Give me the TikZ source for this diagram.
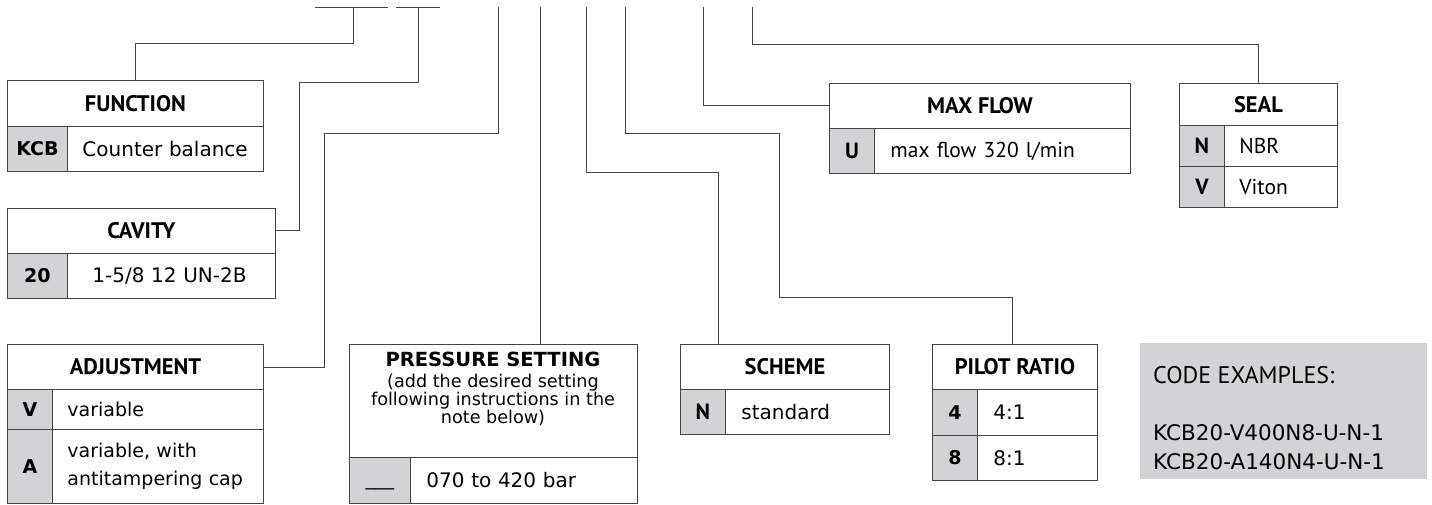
\documentclass[tikz,border=0pt]{standalone}
\usepackage{fontspec}
\setmainfont{DejaVu Sans}
\newfontfamily\dinfam{PT Sans}
\newcommand\hdrfont{\dinfam\bfseries\fontsize{22.5}{25}\selectfont}
\newcommand\keyfont{\bfseries\fontsize{19}{22}\selectfont}
\newcommand\keydin{\dinfam\bfseries\fontsize{22}{24}\selectfont}
\newcommand\txtfont{\fontsize{20}{27}\selectfont}
\newcommand\txtdin{\dinfam\fontsize{21.5}{26}\selectfont}
\definecolor{linec}{HTML}{444444}
\definecolor{keyg}{HTML}{D1D3D4}

\begin{document}
\begin{tikzpicture}[x=1pt,y=-1pt,
    conn/.style={draw=linec,line width=0.9pt},
    hdr/.style={draw=linec,line width=0.9pt,inner sep=0pt,anchor=north west,font=\hdrfont},
    key/.style={hdr,fill=keyg,font=\keyfont},
    val/.style={draw=linec,line width=0.9pt,anchor=north west,inner xsep=15pt,inner ysep=0pt,align=left,font=\txtfont}]
    \useasboundingbox (0,0) rectangle (1432,505);

    \node[hdr,minimum width=256pt,minimum height=46pt] (func) at (7,80) {FUNCTION};
    \node[key,minimum width=60pt,minimum height=45pt] (funck) at (7,126) {KCB};
    \node[val,text width=166pt,minimum height=45pt] (funcv) at (67,126) {Counter balance};

    \node[hdr,minimum width=268pt,minimum height=45pt] (cav) at (7,208) {CAVITY};
    \node[key,minimum width=60pt,minimum height=45pt] (cavk) at (7,253) {20};
    \node[val,inner xsep=25pt,text width=158pt,minimum height=45pt] (cavv) at (67,253) {1-5/8 12 UN-2B};

    \node[hdr,minimum width=256pt,minimum height=45pt] (adj) at (7,344) {ADJUSTMENT};
    \node[key,minimum width=45pt,minimum height=40pt] (adjk1) at (7,389) {V};
    \node[val,font=\fontsize{19}{28}\selectfont,text width=181pt,minimum height=40pt] (adjv1) at (52,389) {variable};
    \node[key,minimum width=45pt,minimum height=74pt] (adjk2) at (7,429) {A};
    \node[val,font=\fontsize{19}{28}\selectfont,text width=181pt,minimum height=74pt] (adjv2) at (52,429) {variable, with\\antitampering cap};

    \node[hdr,minimum width=288pt,minimum height=113pt] (press) at (349,344) {};
    \node[anchor=north,align=center,inner sep=0pt,font=\fontsize{17.6}{18}\selectfont] (presst) at (493,352)
        {{\bfseries\fontsize{19.5}{24}\selectfont PRESSURE SETTING}\\[3pt](add the desired setting\\following instructions in the\\note below)};
    \node[key,minimum width=61pt,minimum height=46pt] (pressk) at (349,457) {\raisebox{-14pt}{\fontsize{19}{20}\mdseries\_\_\_}};
    \node[val,inner xsep=16pt,text width=195pt,minimum height=46pt] (pressv) at (410,457) {070 to 420 bar};

    \node[hdr,minimum width=209pt,minimum height=45pt] (scheme) at (680,344) {SCHEME};
    \node[key,font=\keydin,minimum width=45pt,minimum height=45pt] (schemek) at (680,389) {N};
    \node[val,inner xsep=16pt,text width=132pt,minimum height=45pt] (schemev) at (725,389) {standard};

    \node[hdr,minimum width=165pt,minimum height=45pt] (pilot) at (932,344) {PILOT RATIO};
    \node[key,minimum width=45pt,minimum height=46pt] (pilotk1) at (932,389) {4};
    \node[val,inner xsep=16pt,text width=88pt,minimum height=46pt] (pilotv1) at (977,389) {4:1};
    \node[key,minimum width=45pt,minimum height=45pt] (pilotk2) at (932,435) {8};
    \node[val,inner xsep=16pt,text width=88pt,minimum height=45pt] (pilotv2) at (977,435) {8:1};

    \node[hdr,minimum width=301pt,minimum height=45pt] (maxf) at (829,83) {MAX FLOW};
    \node[key,font=\keydin,minimum width=45pt,minimum height=45pt] (maxfk) at (829,128) {U};
    \node[val,font=\txtdin,inner xsep=16pt,text width=224pt,minimum height=45pt] (maxfv) at (874,128) {max flow 320 l/min};

    \node[hdr,minimum width=158pt,minimum height=42pt] (seal) at (1179,83) {SEAL};
    \node[key,font=\keydin,minimum width=45pt,minimum height=41pt] (sealk1) at (1179,125) {N};
    \node[val,font=\txtdin,text width=83pt,minimum height=41pt] (sealv1) at (1224,125) {NBR};
    \node[key,font=\keydin,minimum width=45pt,minimum height=41pt] (sealk2) at (1179,166) {V};
    \node[val,font=\txtdin,text width=83pt,minimum height=41pt] (sealv2) at (1224,166) {Viton};

    \node[fill=keyg,anchor=north west,inner sep=0pt,minimum width=287pt,minimum height=136pt] (codes) at (1140,343) {};
    \node[anchor=west,inner sep=0pt,font=\dinfam\fontsize{24}{26}\selectfont] (codet) at (1153,375) {CODE EXAMPLES:};
    \node[anchor=north west,inner sep=0pt,align=left,font=\fontsize{21.5}{29}\selectfont] (codel) at (1153,424)
        {KCB20-V400N8-U-N-1\\KCB20-A140N4-U-N-1};

    \coordinate (s1a) at (315,7);
    \coordinate (s1b) at (388,7);
    \coordinate (s2a) at (396,7);
    \coordinate (s2b) at (440,7);
    \coordinate (t1) at (353,7);
    \coordinate (t2) at (418,7);
    \coordinate (t3) at (498,7);
    \coordinate (t4) at (540,7);
    \coordinate (t5) at (586,7);
    \coordinate (t6) at (625,7);
    \coordinate (t7) at (703,7);
    \coordinate (t8) at (752,7);
    \coordinate (c5) at (718,172);
    \coordinate (c6a) at (779,133);
    \coordinate (c6b) at (1012,297);

    \draw[conn] (s1a) -- (s1b);
    \draw[conn] (s2a) -- (s2b);
    \draw[conn] (t1) -- ++(0,36) -| (func.north);
    \draw[conn] (t2) -- ++(0,75) -- ++(-119,0) |- (cav.east);
    \draw[conn] (t3) -- ++(0,126) -- ++(-174,0) |- (adj.east);
    \draw[conn] (t4) -- (t4 |- press.north);
    \draw[conn] (t5) |- (c5) -- (c5 |- scheme.north);
    \draw[conn] (t6) |- (c6a) |- (c6b) -- (c6b |- pilot.north);
    \draw[conn] (t7) |- (maxf.west);
    \draw[conn] (t8) -- ++(0,37) -| (seal.north);
\end{tikzpicture}
\end{document}
